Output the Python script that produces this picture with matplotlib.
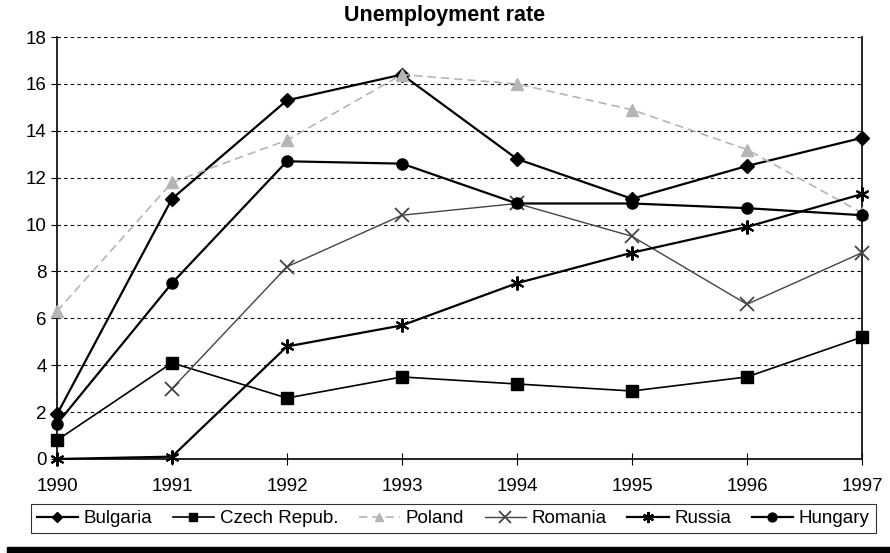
import matplotlib
matplotlib.use("Agg")
import matplotlib.pyplot as plt
from matplotlib.patches import Rectangle

plt.rcParams["font.family"] = ["Liberation Sans", "DejaVu Sans"]

years = [1990, 1991, 1992, 1993, 1994, 1995, 1996, 1997]
bulgaria = [1.9, 11.1, 15.3, 16.4, 12.8, 11.1, 12.5, 13.7]
czech = [0.8, 4.1, 2.6, 3.5, 3.2, 2.9, 3.5, 5.2]
poland = [6.3, 11.8, 13.6, 16.4, 16.0, 14.9, 13.2, 10.5]
romania = [None, 3.0, 8.2, 10.4, 10.9, 9.5, 6.6, 8.8]
russia = [0.0, 0.1, 4.8, 5.7, 7.5, 8.8, 9.9, 11.3]
hungary = [1.5, 7.5, 12.7, 12.6, 10.9, 10.9, 10.7, 10.4]

fig = plt.figure(figsize=(8.9, 5.53), dpi=100)
ax = fig.add_axes([0.064, 0.170, 0.9045, 0.763])

# gridlines drawn first so series sit on top
for v in range(2, 19, 2):
    ax.axhline(v, color="black", lw=0.8, ls=(0, (3, 3)), zorder=1)

rom_years = [y for y, v in zip(years, romania) if v is not None]
rom_vals = [v for v in romania if v is not None]

series = [
    ("Bulgaria", years, bulgaria, dict(color="black", marker="D", ms=7, lw=1.6, ls="-")),
    ("Czech Repub.", years, czech, dict(color="black", marker="s", ms=8, lw=1.2, ls="-")),
    ("Poland", years, poland, dict(color="#b5b5b5", marker="^", ms=8, lw=1.2, ls=(0, (5, 3)))),
    ("Romania", rom_years, rom_vals, dict(color="#444444", marker="x", ms=10, mew=1.3, lw=1.0, ls="-")),
    ("Russia", years, russia, dict(color="black", marker=(6, 2, 0), ms=10, mew=1.5, lw=1.6, ls="-")),
    ("Hungary", years, hungary, dict(color="black", marker="o", ms=8, lw=1.6, ls="-")),
]
for name, xs, ys, style in series:
    ax.plot(xs, ys, label=name, clip_on=False, zorder=3, **style)

ax.set_xlim(1990, 1997)
ax.set_ylim(0, 18)
ax.set_xticks(years)
ax.set_yticks(range(0, 19, 2))
ax.tick_params(axis="x", direction="inout", length=8, width=0.8, labelsize=13.5, pad=10)
ax.tick_params(axis="y", direction="out", length=4, width=0.8, labelsize=13.5)
ax.spines["top"].set_visible(False)
for s in ("left", "right", "bottom"):
    ax.spines[s].set_linewidth(1.2)

fig.text(0.5, 0.972, "Unemployment rate", ha="center", va="center",
         fontsize=15.5, fontweight="bold")

leg = fig.legend(loc="center", bbox_to_anchor=(0.509, 0.062), ncol=6,
                 fontsize=13.5, frameon=True, fancybox=False, edgecolor="black",
                 handlelength=2.2, handletextpad=0.3, columnspacing=1.1,
                 borderpad=0.32, borderaxespad=0, markerscale=0.8)
leg.get_frame().set_linewidth(0.8)

# dark strip along the bottom edge of the scanned page
fig.patches.append(Rectangle((0.008, 0), 0.992, 0.01, transform=fig.transFigure,
                             color="black", zorder=0))

fig.savefig("out.png", dpi=100)
